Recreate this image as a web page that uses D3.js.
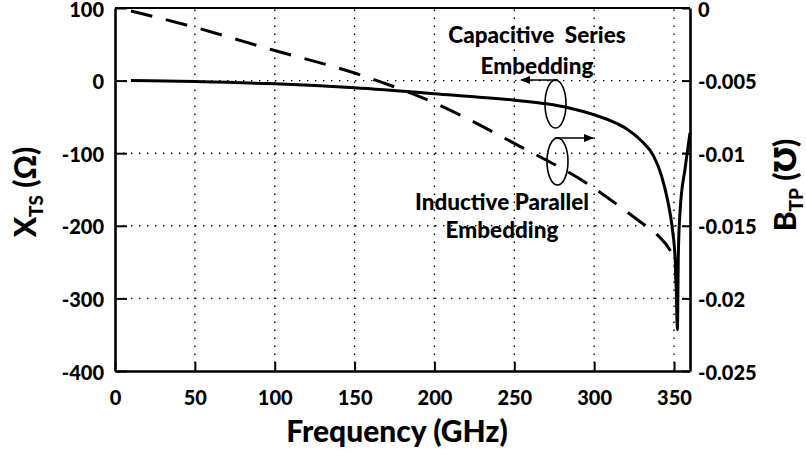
<!DOCTYPE html>
<html><head><meta charset="utf-8">
<script src="https://cdn.jsdelivr.net/npm/d3@7"></script>
<style>body{margin:0;background:#fff}svg{display:block}text{font-family:Lato,"DejaVu Sans",sans-serif;font-weight:900;fill:#000}</style>
</head><body><svg id="c" width="806" height="454"></svg>
<script>
// Data
const xTicks = [0, 50, 100, 150, 200, 250, 300, 350];
const leftTicks = [100, 0, -100, -200, -300, -400];
const leftTickLabels = ["100", "0", "-100", "-200", "-300", "-400"];
const rightTicks = [0, -0.005, -0.01, -0.015, -0.02, -0.025];
const rightTickLabels = ["0", "-0.005", "-0.01", "-0.015", "-0.02", "-0.025"];
// Capacitive series embedding: X_TS (ohm), left axis
const capFreq = [10, 50, 100, 150, 200, 250, 270, 285, 300, 310, 320, 330, 337, 342, 346, 349, 350.8, 351.6, 352.1, 352.7, 353.8, 357, 360];
const capX =    [0, -1.4, -4.5, -10, -18, -27, -32, -38, -47, -55, -66, -84, -103, -130, -165, -205, -250, -300, -343, -240, -179, -120, -72];
// Inductive parallel embedding: B_TP (mho), right axis
const indFreq = [10, 47, 100, 150, 200, 252, 296, 329, 339, 350.6, 351.6, 352.2];
const indB = [-0.0002, -0.00124, -0.00293, -0.00448, -0.00654, -0.00944, -0.01212, -0.01474, -0.01556, -0.01749, -0.0195, -0.0221];

const svg = d3.select("#c");
const L = 115, R = 690, T = 8, B = 371;
const x = d3.scaleLinear().domain([0, 360]).range([L, R]);
const yL = d3.scaleLinear().domain([-400, 100]).range([B, T]);
const yR = d3.scaleLinear().domain([-0.025, 0]).range([B, T]);

// grid
const grid = svg.append("g").attr("stroke", "#000").attr("stroke-width", 1.4).attr("stroke-dasharray", "1.4,6.6");
xTicks.filter(d => d > 0).forEach(d => grid.append("line").attr("x1", x(d)).attr("x2", x(d)).attr("y1", B).attr("y2", T));
leftTicks.filter(d => d < 100 && d > -400).forEach(d => grid.append("line").attr("x1", L).attr("x2", R).attr("y1", yL(d)).attr("y2", yL(d)));

// axes
const ax = svg.append("g");
const gB = ax.append("g").attr("transform", `translate(0,${B})`)
  .call(d3.axisBottom(x).tickValues(xTicks).tickSizeInner(-9).tickSizeOuter(0).tickPadding(20).tickFormat(d => String(d)));
const gLft = ax.append("g").attr("transform", `translate(${L},0)`)
  .call(d3.axisLeft(yL).tickValues(leftTicks).tickSizeInner(-12).tickSizeOuter(0).tickPadding(11).tickFormat((d, i) => leftTickLabels[i]));
const gR = ax.append("g").attr("transform", `translate(${R},0)`)
  .call(d3.axisRight(yR).tickValues(rightTicks).tickSizeInner(-8).tickSizeOuter(0).tickPadding(8).tickFormat((d, i) => rightTickLabels[i]));
[gB, gLft, gR].forEach(g => {
  g.select(".domain").attr("stroke", "#000").attr("stroke-width", 2.6);
  g.selectAll(".tick line").attr("stroke", "#000").attr("stroke-width", 2);
  g.selectAll(".tick text").attr("font-size", 20).attr("font-family", "Lato, 'DejaVu Sans', sans-serif").attr("font-weight", "900").attr("fill", "#000");
});
gB.selectAll(".tick text").attr("dy", "0.71em");
gLft.selectAll(".tick text").attr("dy", "0.4em");
gR.selectAll(".tick text").attr("dy", "0.4em");
svg.append("line").attr("x1", L).attr("x2", R).attr("y1", T).attr("y2", T).attr("stroke", "#000").attr("stroke-width", 2.2);

// curves
const capLine = d3.line().x((d, i) => x(capFreq[i])).y(d => yL(d)).curve(d3.curveMonotoneX);
svg.append("path").attr("d", capLine(capX)).attr("fill", "none").attr("stroke", "#000").attr("stroke-width", 3);
const indLine = d3.line().x((d, i) => x(indFreq[i])).y(d => yR(d)).curve(d3.curveMonotoneX);
svg.append("path").attr("d", indLine(indB)).attr("fill", "none").attr("stroke", "#000").attr("stroke-width", 3).attr("stroke-dasharray", "22,14");

// annotations
const defs = svg.append("defs");
defs.append("marker").attr("id", "ah").attr("viewBox", "0 0 10 10").attr("refX", 9).attr("refY", 5)
  .attr("markerWidth", 10).attr("markerHeight", 10).attr("markerUnits", "userSpaceOnUse").attr("orient", "auto")
  .append("path").attr("d", "M0,1 L10,5 L0,9 Z").attr("fill", "#000");
const an = svg.append("g");
an.append("ellipse").attr("cx", 555.5).attr("cy", 104).attr("rx", 10.5).attr("ry", 24).attr("fill", "none").attr("stroke", "#000").attr("stroke-width", 1.6);
an.append("line").attr("x1", 558).attr("y1", 80).attr("x2", 521).attr("y2", 80).attr("stroke", "#000").attr("stroke-width", 1.6).attr("marker-end", "url(#ah)");
an.append("ellipse").attr("cx", 557.5).attr("cy", 161.5).attr("rx", 10.5).attr("ry", 23.5).attr("fill", "none").attr("stroke", "#000").attr("stroke-width", 1.6);
an.append("line").attr("x1", 555).attr("y1", 138).attr("x2", 593).attr("y2", 138).attr("stroke", "#000").attr("stroke-width", 1.6).attr("marker-end", "url(#ah)");
an.append("text").attr("x", 537).attr("y", 43).attr("text-anchor", "middle").attr("font-size", 22.5).attr("xml:space", "preserve").text("Capacitive  Series");
an.append("text").attr("x", 537).attr("y", 74).attr("text-anchor", "middle").attr("font-size", 22.5).text("Embedding");
an.append("text").attr("x", 502).attr("y", 210).attr("text-anchor", "middle").attr("font-size", 22.5).text("Inductive Parallel");
an.append("text").attr("x", 502).attr("y", 238).attr("text-anchor", "middle").attr("font-size", 22.5).text("Embedding");

// axis titles
svg.append("text").attr("x", 397).attr("y", 442).attr("text-anchor", "middle").attr("font-size", 30).text("Frequency (GHz)");
const tl = svg.append("text").attr("transform", "translate(36,192) rotate(-90)").attr("text-anchor", "middle").attr("font-size", 30);
tl.append("tspan").text("X");
tl.append("tspan").attr("font-size", 19).attr("dy", 7).text("TS");
tl.append("tspan").attr("dy", -7).text(" (Ω)");
const tr = svg.append("text").attr("transform", "translate(796,185) rotate(-90)").attr("text-anchor", "middle").attr("font-size", 30);
tr.append("tspan").text("B");
tr.append("tspan").attr("font-size", 19).attr("dy", 7).text("TP");
tr.append("tspan").attr("dy", -7).text(" (℧)");
</script></body></html>
